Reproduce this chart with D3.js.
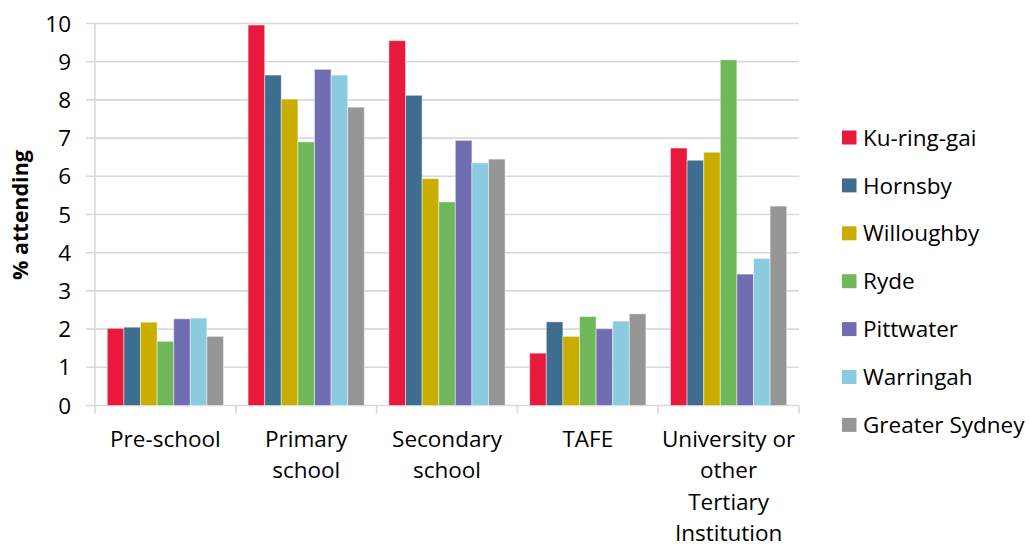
<!DOCTYPE html>
<html>
<head>
<meta charset="utf-8">
<script src="https://cdn.jsdelivr.net/npm/d3@7"></script>
<style>
  html, body { margin: 0; padding: 0; background: #fff; }
  svg text { font-family: "Open Sans", "Noto Sans", sans-serif; fill: #000; }
</style>
</head>
<body>
<svg id="chart" width="1031" height="547"></svg>
<script>
// Share of residents attending each type of educational institution (%)
const categories = [
  ["Pre-school"],
  ["Primary", "school"],
  ["Secondary", "school"],
  ["TAFE"],
  ["University or", "other", "Tertiary", "Institution"]
];
const seriesNames = ["Ku-ring-gai", "Hornsby", "Willoughby", "Ryde", "Pittwater", "Warringah", "Greater Sydney"];
const seriesColors = ["#E8193A", "#3D6E8F", "#C9AE00", "#71B85A", "#716DB2", "#8BCBDF", "#969696"];
const kuringgai = [2.02, 9.96, 9.55, 1.37, 6.74];
const hornsby   = [2.05, 8.65, 8.12, 2.19, 6.42];
const willoughby = [2.18, 8.02, 5.94, 1.81, 6.63];
const ryde      = [1.68, 6.90, 5.33, 2.33, 9.05];
const pittwater = [2.27, 8.80, 6.94, 2.01, 3.44];
const warringah = [2.29, 8.65, 6.35, 2.21, 3.85];
const greaterSydney = [1.81, 7.81, 6.45, 2.40, 5.22];
const yTicks = [0, 1, 2, 3, 4, 5, 6, 7, 8, 9, 10];

const seriesValues = [kuringgai, hornsby, willoughby, ryde, pittwater, warringah, greaterSydney];

const svg = d3.select("#chart");
const plot = { left: 95, right: 799, top: 23.5, bottom: 405.5 };
const fontSize = 22.5;

const x0 = d3.scaleBand()
  .domain(d3.range(categories.length))
  .range([plot.left, plot.right])
  .paddingInner(0).paddingOuter(0);

const groupPad = 12.3;
const x1 = d3.scaleBand()
  .domain(d3.range(seriesNames.length))
  .range([groupPad, x0.bandwidth() - groupPad])
  .padding(0);

const y = d3.scaleLinear().domain([0, 10]).range([plot.bottom, plot.top]);

// Horizontal gridlines, with short outward ticks on the left
svg.append("g")
  .selectAll("line")
  .data(yTicks)
  .join("line")
  .attr("x1", plot.left - 9)
  .attr("x2", plot.right)
  .attr("y1", d => y(d))
  .attr("y2", d => y(d))
  .attr("stroke", "#D9D9D9")
  .attr("stroke-width", 1.6);

// Vertical axis line
svg.append("line")
  .attr("x1", plot.left).attr("x2", plot.left)
  .attr("y1", plot.top).attr("y2", plot.bottom)
  .attr("stroke", "#D9D9D9").attr("stroke-width", 1.6);

// Y tick labels
svg.append("g")
  .selectAll("text")
  .data(yTicks)
  .join("text")
  .attr("x", 71)
  .attr("y", d => y(d))
  .attr("dy", "0.36em")
  .attr("text-anchor", "end")
  .attr("font-size", fontSize)
  .text(d => d);

// Category tick marks on the baseline
const boundaries = d3.range(categories.length + 1).map(i =>
  i < categories.length ? x0(i) : x0(categories.length - 1) + x0.bandwidth());
svg.append("g")
  .selectAll("line")
  .data(boundaries)
  .join("line")
  .attr("x1", d => d).attr("x2", d => d)
  .attr("y1", plot.bottom).attr("y2", plot.bottom + 8)
  .attr("stroke", "#D9D9D9").attr("stroke-width", 1.6);

// Bars
const groups = svg.append("g")
  .selectAll("g")
  .data(categories.map((c, i) => i))
  .join("g")
  .attr("transform", i => `translate(${x0(i)},0)`);

groups.selectAll("rect")
  .data(i => seriesValues.map((vals, s) => ({ s, v: vals[i] })))
  .join("rect")
  .attr("x", d => x1(d.s))
  .attr("width", x1.bandwidth())
  .attr("y", d => y(d.v))
  .attr("height", d => y(0) - y(d.v))
  .attr("fill", d => seriesColors[d.s])
  .attr("stroke", "#ffffff")
  .attr("stroke-opacity", 0.45)
  .attr("stroke-width", 1);

// Category labels
const catLabels = svg.append("g")
  .selectAll("text")
  .data(categories.map((lines, i) => ({ lines, i })))
  .join("text")
  .attr("x", d => x0(d.i) + x0.bandwidth() / 2)
  .attr("y", 447)
  .attr("text-anchor", "middle")
  .attr("font-size", fontSize);
catLabels.selectAll("tspan")
  .data(d => d.lines.map((t, k) => ({ t, k, cx: x0(d.i) + x0.bandwidth() / 2 })))
  .join("tspan")
  .attr("x", d => d.cx)
  .attr("dy", d => d.k === 0 ? 0 : 31.3)
  .text(d => d.t);

// Y axis title
svg.append("text")
  .attr("transform", "translate(28,215) rotate(-90)")
  .attr("text-anchor", "middle")
  .attr("font-size", 21.5)
  .attr("font-weight", "bold")
  .text("% attending");

// Legend
const legend = svg.append("g")
  .selectAll("g")
  .data(seriesNames.map((n, i) => ({ n, i })))
  .join("g")
  .attr("transform", d => `translate(842,${137.5 + d.i * 47.9})`);
legend.append("rect")
  .attr("x", 0).attr("y", -7)
  .attr("width", 14.5).attr("height", 14)
  .attr("fill", d => seriesColors[d.i]);
legend.append("text")
  .attr("x", 21)
  .attr("dy", "0.36em")
  .attr("font-size", fontSize)
  .text(d => d.n);
</script>
</body>
</html>
